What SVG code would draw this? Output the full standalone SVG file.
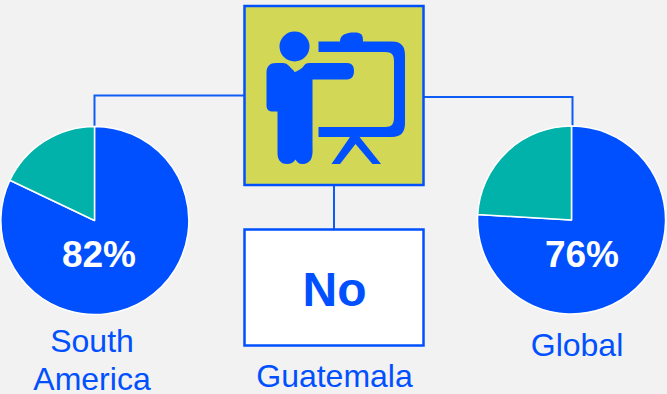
<svg xmlns="http://www.w3.org/2000/svg" width="667" height="394" viewBox="0 0 667 394">
<style>
.conn{fill:none;stroke:#0f5cf5;stroke-width:2}
.blue{fill:#0050ff}
.teal{fill:#00b2a9;stroke:#fff;stroke-width:1.5;stroke-linejoin:round}
.slice{fill:#0050ff;stroke:#fff;stroke-width:1.5;stroke-linejoin:round}
text{font-family:"Liberation Sans",Arial,sans-serif}
.pct{font-size:37px;font-weight:700;fill:#fff;text-anchor:middle}
.lab{font-size:32px;fill:#0050ff;text-anchor:middle}
</style>
<rect width="667" height="394" fill="#f2f2f2"/>
<g id="connectors">
<path class="conn" d="M244 95.500H94.500V127"/>
<path class="conn" d="M424 97H572.500V127"/>
<path class="conn" d="M334 186V229"/>
</g>
<g id="pie-south-america">
<path class="slice" d="M94.500 220.500V126.500A94 94 0 1 1 9.900 180.300Z"/>
<path class="teal" d="M94.500 220.500L9.900 180.300A94 94 0 0 1 94.500 126.500Z"/>
<text class="pct" x="99" y="267">82%</text>
<text class="lab" x="92" y="352">South</text>
<text class="lab" x="92" y="390">America</text>
</g>
<g id="presenter">
<rect x="244.500" y="6" width="179" height="179" fill="#d2d755" stroke="#0050ff" stroke-width="2.500"/>
<circle class="blue" cx="294.500" cy="46.500" r="15"/>
<path class="blue" d="M276 63H283C287 63 289 66 292 69C294 71 295 72 294 72C296 72 299 70 302 68C304 66 305 63 309 63H347C352 63 354 66 354 71C354 76 352 79 347 79.500H312.500V147C313 156 312 164 302 164C299 164 297 162 295.500 159.500C294 162 291 164 287 164C280 164 277.500 159 277.500 153V111.500H273C269 111.500 266.500 110 266.500 105V73C266.500 66 270 63 276 63Z"/>
<path class="blue" d="M318.500 41.500H340C340 35 346 32.500 354 32.500C362 32.500 363 35 363 41.500H392C401 41.500 405 46 405 55V123C405 132 401 137 392 137H359.500L381 164H372.500L355.500 144L340 164H331.500L350 137H318.500V127H385C392 127 394 124 394 117V61C394 55 392 52 385 52H318.500Z"/>
</g>
<g id="guatemala">
<rect x="244.500" y="229.500" width="179" height="116" fill="#fff" stroke="#0050ff" stroke-width="2.500"/>
<text x="334.500" y="306" font-size="48" font-weight="700" fill="#0050ff" text-anchor="middle">No</text>
<text class="lab" x="334.500" y="387">Guatemala</text>
</g>
<g id="pie-global">
<path class="slice" d="M571.500 220V126A94 94 0 1 1 477.700 214.500Z"/>
<path class="teal" d="M571.500 220L477.700 214.500A94 94 0 0 1 571.500 126Z"/>
<text class="pct" x="582" y="267">76%</text>
<text class="lab" x="577" y="356">Global</text>
</g>
</svg>
